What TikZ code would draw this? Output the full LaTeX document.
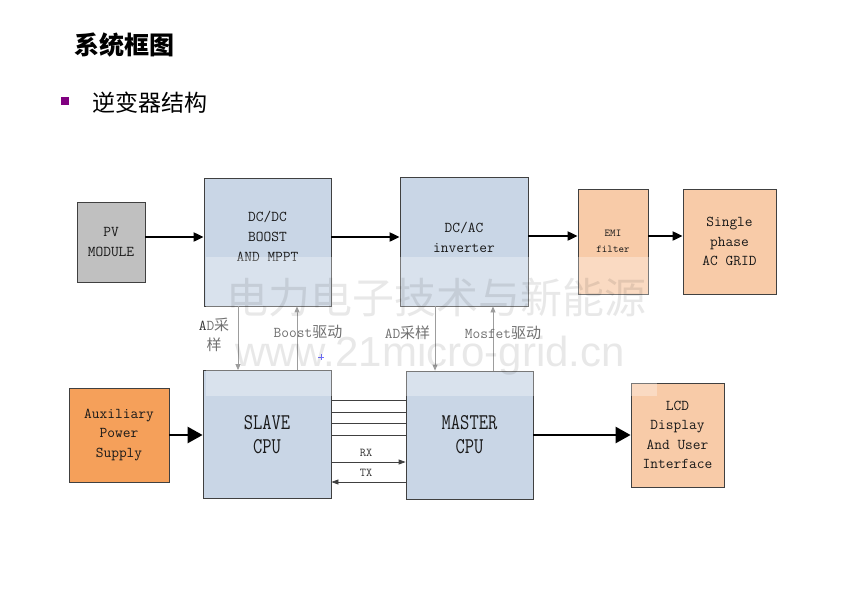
\documentclass[tikz,border=0pt]{standalone}
\usepackage{fontspec}
\setmainfont{Liberation Serif}
\newfontfamily\cjk{Noto Sans CJK SC}
\newfontfamily\wmfont{Liberation Sans}
\usetikzlibrary{arrows.meta}
\definecolor{boxblue}{RGB}{201,214,230}
\definecolor{pvgray}{RGB}{192,192,192}
\definecolor{auxorange}{RGB}{245,160,90}
\definecolor{lightorange}{RGB}{248,203,168}
\definecolor{bordergray}{RGB}{64,64,64}
\definecolor{bulletpurple}{RGB}{128,0,128}
\tikzset{
  blk/.style={draw=bordergray, line width=0.8pt, inner sep=0pt, align=center,
    font=\ttfamily\fontsize{15}{19.5}\selectfont, text=black!90},
  bluebox/.style={blk, fill=boxblue},
  orbox/.style={blk, fill=lightorange},
  mainarrow/.style={line width=2pt, -{Triangle[length=10pt,width=9pt]}},
  bigarrow/.style={line width=2.6pt, -{Triangle[length=15pt,width=16pt]}},
  thinarrow/.style={line width=0.8pt, draw=black!55, -{Triangle[length=6pt,width=5pt]}},
  busline/.style={line width=0.8pt, draw=black!75},
  lbl/.style={inner sep=0pt, align=center, text=black!80, font=\ttfamily\fontsize{15}{20}\selectfont},
}
\begin{document}
\begin{tikzpicture}[x=1pt,y=-1pt]
\useasboundingbox (0,0) rectangle (863,598);
% title
\node[anchor=west, inner sep=0pt, font=\cjk\bfseries\fontsize{25}{30}\selectfont] (title) at (74,45) {系统框图};
\fill[bulletpurple] (61,97) rectangle (69,105);
\node[anchor=west, inner sep=0pt, font=\cjk\fontsize{23}{28}\selectfont] (sub) at (92,103) {逆变器结构};

% top row
\node[blk, fill=pvgray, minimum width=68pt, minimum height=80pt] (pv) at (111,242) {PV\\MODULE};
\node[bluebox, minimum width=127pt, minimum height=128pt,
  label={[lbl, text=black!90, yshift=6pt]center:DC/DC\\BOOST\\AND MPPT}] (dcdc) at (267.5,242) {};
\node[bluebox, minimum width=128pt, minimum height=129pt,
  label={[lbl, text=black!90, yshift=4pt]center:DC/AC\\inverter}] (dcac) at (464,241.5) {};
\node[orbox, minimum width=70pt, minimum height=105pt, font=\ttfamily\fontsize{10.5}{16}\selectfont] (emi) at (613,241.5) {EMI\\filter};
\node[orbox, minimum width=93pt, minimum height=105pt] (grid) at (729.5,241.5) {Single\\phase\\AC GRID};

% bottom row
\node[blk, fill=auxorange, minimum width=100pt, minimum height=94pt] (aux) at (119,435) {Auxiliary\\Power\\Supply};
\node[bluebox, minimum width=128pt, minimum height=128pt, font=\ttfamily\fontsize{18}{24}\selectfont] (slave) at (267,434.5) {\scalebox{1}[1.25]{SLAVE}\\\scalebox{1}[1.25]{CPU}};
\node[bluebox, minimum width=127pt, minimum height=128pt, font=\ttfamily\fontsize{18}{24}\selectfont] (master) at (469.5,435) {\scalebox{1}[1.25]{MASTER}\\\scalebox{1}[1.25]{CPU}};
\node[orbox, minimum width=93pt, minimum height=104pt] (lcd) at (677.5,435) {LCD\\Display\\And User\\Interface};

% main arrows
\draw[mainarrow] (pv.east |- 0,237) -- (dcdc.west |- 0,237);
\draw[mainarrow] (dcdc.east |- 0,237) -- (dcac.west |- 0,237);
\draw[mainarrow] (dcac.east |- 0,236) -- (emi.west |- 0,236);
\draw[mainarrow] (emi.east |- 0,236) -- (grid.west |- 0,236);
\draw[bigarrow] (aux.east |- 0,435) -- (slave.west |- 0,435);
\draw[bigarrow] (master.east |- 0,435) -- (lcd.west |- 0,435);

% vertical signal arrows
\draw[thinarrow] (dcdc.south -| 238,0) -- (slave.north -| 238,0);
\draw[thinarrow] (slave.north -| 297,0) -- (dcdc.south -| 297,0);
\draw[thinarrow] (dcac.south -| 435,0) -- (master.north -| 435,0);
\draw[thinarrow] (master.north -| 493,0) -- (dcac.south -| 493,0);
\node[lbl] (ad1) at (214,335) {AD{\cjk 采}\\{\cjk 样}};
\node[lbl] (boost) at (308,332) {Boost{\cjk 驱动}};
\node[lbl] (ad2) at (407.5,333) {AD{\cjk 采样}};
\node[lbl] (mos) at (503,333) {Mosfet{\cjk 驱动}};

% bus between CPUs
\foreach \yy in {400,412,423.5,435}
  \draw[busline] (slave.east |- 0,\yy) -- (master.west |- 0,\yy);
\draw[busline, -{Triangle[length=7pt,width=5pt]}] (slave.east |- 0,462) -- (master.west |- 0,462);
\draw[busline, -{Triangle[length=7pt,width=5pt]}] (master.west |- 0,482) -- (slave.east |- 0,482);
\node[lbl, font=\ttfamily\fontsize{12}{14}\selectfont] (rx) at (366,452.5) {RX};
\node[lbl, font=\ttfamily\fontsize{12}{14}\selectfont] (tx) at (366,472.5) {TX};

% small blue mark
\draw[blue!80, line width=0.6pt] (318,357) -- (324,357) (321,354) -- (321,360);

% watermark overlay
\fill[white, opacity=0.3] (206,257) rectangle (657,396);
\node[inner sep=0pt, text=black, opacity=0.09, font=\cjk\fontsize{42}{46}\selectfont] (wm1) at (436,298) {电力电子技术与新能源};
\node[inner sep=0pt, text=black, opacity=0.09, font=\wmfont\fontsize{42}{46}\selectfont] (wm2) at (430,356) {www.21micro-grid.cn};
\end{tikzpicture}
\end{document}
